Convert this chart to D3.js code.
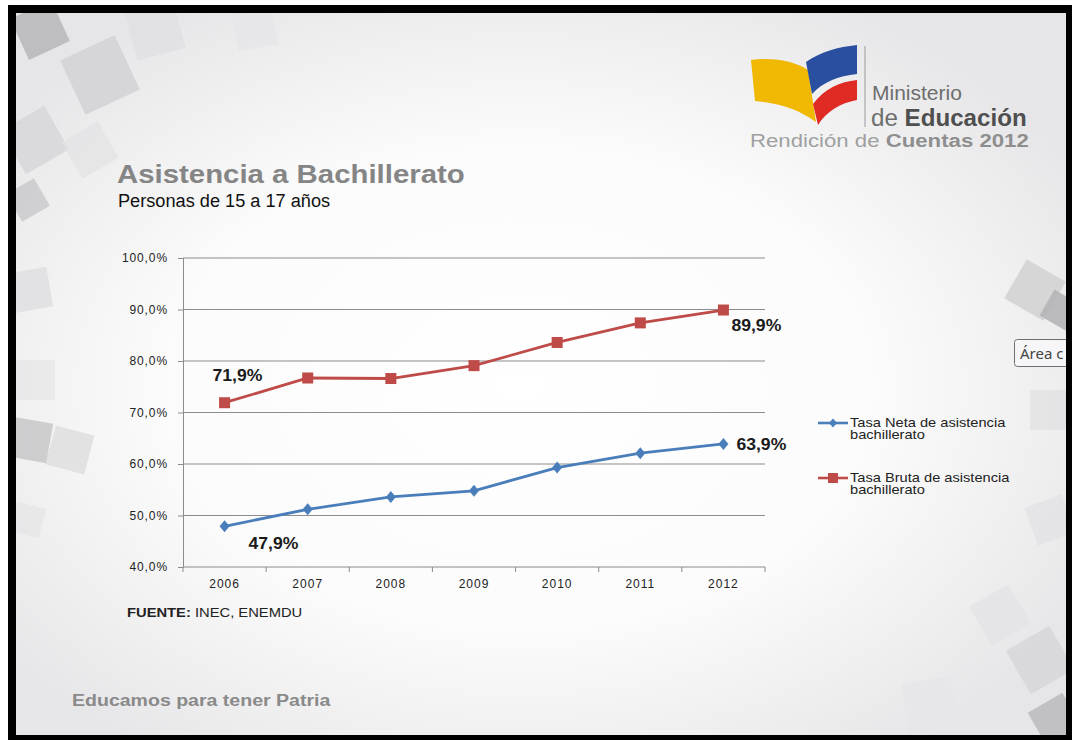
<!DOCTYPE html>
<html>
<head>
<meta charset="utf-8">
<script src="https://cdn.jsdelivr.net/npm/d3@7"></script>
<style>
  body { margin: 0; background: #fff; }
  svg { display: block; font-family: "Liberation Sans", Arial, sans-serif; }
</style>
</head>
<body>
<div id="chart"></div>
<script>
// data
var years = ["2006", "2007", "2008", "2009", "2010", "2011", "2012"];
var tasaNeta = [47.9, 51.2, 53.6, 54.8, 59.3, 62.1, 63.9];
var tasaBruta = [71.9, 76.7, 76.6, 79.1, 83.6, 87.4, 89.9];
var yTicks = [40, 50, 60, 70, 80, 90, 100];
var seriesNames = ["Tasa Neta de asistencia bachillerato", "Tasa Bruta de asistencia bachillerato"];

var W = 1072, H = 740;
var svg = d3.select("#chart").append("svg")
    .attr("width", W).attr("height", H);

// text helper: the slide text is a bit stretched horizontally
function addText(parent, x, y, size, sx) {
  return parent.append("text")
      .attr("transform", "translate(" + x + "," + y + ") scale(" + (sx || 1) + ",1)")
      .attr("font-size", size);
}

var defs = svg.append("defs");
var grad = defs.append("radialGradient").attr("id", "bg")
    .attr("cx", "48%").attr("cy", "52%").attr("r", "62%");
grad.append("stop").attr("offset", "0%").attr("stop-color", "#ffffff");
grad.append("stop").attr("offset", "55%").attr("stop-color", "#fbfbfb");
grad.append("stop").attr("offset", "100%").attr("stop-color", "#e6e6e8");

// frame
svg.append("rect").attr("x", 0).attr("y", 0).attr("width", W).attr("height", H).attr("fill", "#fff");
svg.append("rect").attr("x", 8).attr("y", 5).attr("width", W - 8).attr("height", H - 5).attr("fill", "#000");
svg.append("rect").attr("x", 16).attr("y", 13).attr("width", 1050).attr("height", 722).attr("fill", "url(#bg)");

// decorative squares around the slide edges
defs.append("clipPath").attr("id", "inner")
    .append("rect").attr("x", 16).attr("y", 13).attr("width", 1050).attr("height", 722);
var deco = svg.append("g").attr("clip-path", "url(#inner)");
var squares = [
  [40, 30, 45, -25, "#b9b9bb", 0.9], [100, 75, 60, -25, "#d4d4d6", 0.9], [155, 30, 50, -15, "#e0e0e2", 0.8],
  [255, 28, 40, -10, "#e6e6e8", 0.7], [35, 140, 50, -30, "#d6d6d8", 0.8], [90, 150, 42, -30, "#e2e2e4", 0.7],
  [28, 200, 32, -30, "#c8c8ca", 0.8], [30, 290, 40, -10, "#dcdcde", 0.7], [35, 380, 40, 0, "#e4e4e6", 0.6],
  [30, 440, 40, 10, "#c4c4c6", 0.8], [70, 450, 40, 15, "#dadadc", 0.7], [28, 520, 30, 15, "#e2e2e4", 0.6],
  [1035, 290, 45, 30, "#cfcfd1", 0.8], [1060, 310, 30, 30, "#b5b5b7", 0.9], [1050, 410, 40, 0, "#dedee0", 0.6],
  [1050, 520, 40, -20, "#e0e0e2", 0.6], [1000, 615, 45, -30, "#e3e3e5", 0.7], [1040, 660, 50, -30, "#d6d6d8", 0.8],
  [930, 705, 50, -10, "#e6e6e8", 0.7], [1055, 720, 40, -30, "#bdbdbf", 0.9]
];
squares.forEach(function (s) {
  deco.append("rect")
      .attr("x", -s[2] / 2).attr("y", -s[2] / 2)
      .attr("width", s[2]).attr("height", s[2])
      .attr("transform", "translate(" + s[0] + "," + s[1] + ") rotate(" + s[3] + ")")
      .attr("fill", s[4]).attr("opacity", s[5]);
});

// logo
var logo = svg.append("g");
logo.append("path")
    .attr("d", "M751,60 C775,57 796,62 808,70 L816,122 C800,110 780,103 755,101 Z")
    .attr("fill", "#f0b800");
logo.append("path")
    .attr("d", "M806,62 C820,52 838,47 857,45 L857,74 C838,76 823,82 812,94 Z")
    .attr("fill", "#2a4fa0");
logo.append("path")
    .attr("d", "M813,104 C825,88 840,82 857,80 L857,100 C840,103 826,112 818,125 Z")
    .attr("fill", "#e02a24");
logo.append("line").attr("x1", 865).attr("x2", 865).attr("y1", 46).attr("y2", 127)
    .attr("stroke", "#9a9a9a").attr("stroke-width", 1);
addText(logo, 872, 100, 21, 1.0).attr("fill", "#6d6d6d").text("Ministerio");
var de = addText(logo, 871, 126, 23, 1.05).attr("fill", "#6d6d6d");
de.append("tspan").text("de ");
de.append("tspan").attr("font-weight", "bold").attr("fill", "#4f4f4f").text("Educación");
var rc = addText(logo, 750, 147, 18.5, 1.2).attr("fill", "#a0a0a0");
rc.append("tspan").text("Rendición de ");
rc.append("tspan").attr("font-weight", "bold").attr("fill", "#8e8e8e").text("Cuentas 2012");

// titles
addText(svg, 117, 183, 26, 1.13).attr("font-weight", "bold")
    .attr("fill", "#858585").text("Asistencia a Bachillerato");
addText(svg, 118, 207, 18, 1.01).attr("fill", "#111").text("Personas de 15 a 17 años");

// chart area
var margin = { left: 183, top: 258 }, width = 582, height = 309;
var g = svg.append("g").attr("transform", "translate(" + margin.left + "," + margin.top + ")");

var x = d3.scaleBand().domain(years).range([0, width]);
var y = d3.scaleLinear().domain([40, 100]).range([height, 0]);
var fmt = function (v) { return d3.format(".1f")(v).replace(".", ",") + "%"; };

// gridlines
g.selectAll(".grid").data(yTicks.slice(1)).enter().append("line")
    .attr("x1", 0).attr("x2", width)
    .attr("y1", function (d) { return y(d); }).attr("y2", function (d) { return y(d); })
    .attr("stroke", "#8c8c8c").attr("stroke-width", 1);

// y axis
var yAxis = g.append("g")
    .call(d3.axisLeft(y).tickValues(yTicks).tickFormat(fmt).tickSize(5).tickPadding(10));
yAxis.select(".domain").attr("stroke", "#8c8c8c");
yAxis.selectAll(".tick line").attr("stroke", "#8c8c8c");
yAxis.selectAll("text").attr("font-size", 12).attr("letter-spacing", 0.9).attr("fill", "#222")
    .attr("font-family", "Liberation Sans, Arial");

// x axis with ticks at category boundaries
var xAxis = g.append("g").attr("transform", "translate(0," + height + ")")
    .call(d3.axisBottom(x).tickSize(0).tickPadding(12));
xAxis.select(".domain").attr("stroke", "#8c8c8c").attr("d", "M0,0H" + width);
xAxis.selectAll("text").attr("font-size", 12).attr("letter-spacing", 1).attr("fill", "#222")
    .attr("font-family", "Liberation Sans, Arial");
g.selectAll(".xtick").data(years.concat(["end"])).enter().append("line")
    .attr("x1", function (d, i) { return i * x.step(); })
    .attr("x2", function (d, i) { return i * x.step(); })
    .attr("y1", height).attr("y2", height + 5)
    .attr("stroke", "#8c8c8c");

var cx = function (d, i) { return x(years[i]) + x.bandwidth() / 2; };
var line = d3.line().x(cx).y(function (d) { return y(d); });

// red series
g.append("path").datum(tasaBruta).attr("fill", "none").attr("stroke", "#be4b48")
    .attr("stroke-width", 2.8).attr("d", line);
g.selectAll(".sq").data(tasaBruta).enter().append("rect")
    .attr("x", function (d, i) { return cx(d, i) - 5.5; })
    .attr("y", function (d) { return y(d) - 5.5; })
    .attr("width", 11).attr("height", 11).attr("fill", "#be4b48");

// blue series
g.append("path").datum(tasaNeta).attr("fill", "none").attr("stroke", "#4a7ebb")
    .attr("stroke-width", 2.8).attr("d", line);
g.selectAll(".dm").data(tasaNeta).enter().append("path")
    .attr("d", "M0,-6L5,0L0,6L-5,0Z")
    .attr("transform", function (d, i) { return "translate(" + cx(d, i) + "," + y(d) + ")"; })
    .attr("fill", "#4a7ebb");

// data labels
var labels = [
  { v: tasaBruta[0], i: 0, dx: -12, dy: -22 },
  { v: tasaBruta[6], i: 6, dx: 8, dy: 21 },
  { v: tasaNeta[0], i: 0, dx: 24, dy: 23 },
  { v: tasaNeta[6], i: 6, dx: 13, dy: 6 }
];
labels.forEach(function (d) {
  addText(g, cx(d.v, d.i) + d.dx, y(d.v) + d.dy, 16, 1.1)
      .attr("font-weight", "bold").attr("fill", "#1a1a1a").text(fmt(d.v));
});

// legend
var leg = svg.append("g").attr("transform", "translate(818,423)");
[0, 1].forEach(function (k) {
  var row = leg.append("g").attr("transform", "translate(0," + (k * 55) + ")");
  var col = k === 0 ? "#4a7ebb" : "#be4b48";
  row.append("line").attr("x1", 0).attr("x2", 30).attr("stroke", col).attr("stroke-width", 2.6);
  if (k === 0) row.append("path").attr("d", "M15,-4.5L19,0L15,4.5L11,0Z").attr("fill", col);
  else row.append("rect").attr("x", 10).attr("y", -5).attr("width", 10).attr("height", 10).attr("fill", col);
  var words = seriesNames[k].split(" ");
  addText(row, 32, 4, 12, 1.22).attr("fill", "#222").text(words.slice(0, 4).join(" "));
  addText(row, 32, 16, 12, 1.22).attr("fill", "#222").text(words.slice(4).join(" "));
});

// source and footer
var src = addText(svg, 127, 617, 12.5, 1.18).attr("fill", "#222");
src.append("tspan").attr("font-weight", "bold").text("FUENTE:");
src.append("tspan").text(" INEC, ENEMDU");
addText(svg, 72, 706, 17, 1.15).attr("font-weight", "bold")
    .attr("fill", "#8a8a8a").text("Educamos para tener Patria");

// tooltip box at the right edge
var tip = svg.append("g");
tip.append("rect").attr("x", 1014.5).attr("y", 339.5).attr("width", 70).attr("height", 27).attr("rx", 3)
    .attr("fill", "#f6f6f8").attr("stroke", "#6e6e6e");
tip.append("text").attr("x", 1020).attr("y", 359).attr("font-size", 15).attr("fill", "#444")
    .attr("font-family", "Noto Sans, sans-serif").text("Área c");
svg.append("rect").attr("x", 1066).attr("y", 5).attr("width", 6).attr("height", H - 5).attr("fill", "#000");
</script>
</body>
</html>
